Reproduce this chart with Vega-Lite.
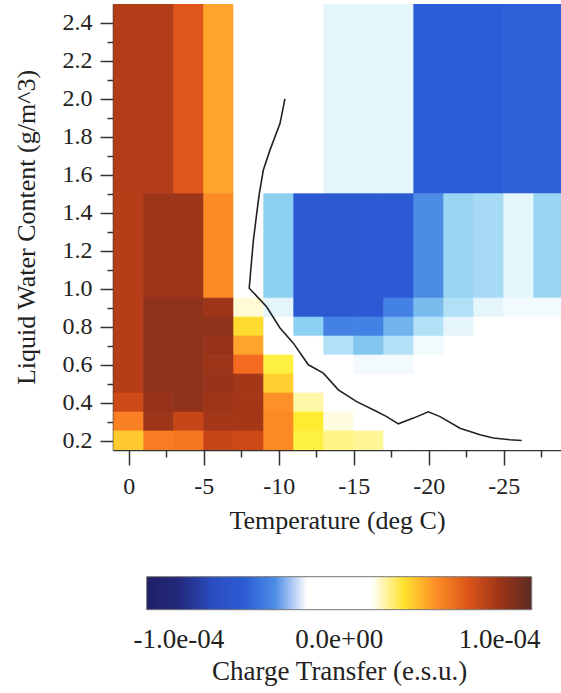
{
  "$schema": "https://vega.github.io/schema/vega-lite/v6.json",
  "width": 448,
  "height": 446,
  "autosize": {"type": "none"},
  "padding": {"left": 113, "top": 4, "right": 0, "bottom": 243},
  "background": "white",
  "config": {
    "font": "Liberation Serif",
    "view": {"stroke": "#555", "strokeWidth": 1},
    "axis": {"labelFont": "Liberation Serif", "titleFont": "Liberation Serif", "labelColor": "#222", "titleColor": "#222", "titleFontWeight": "normal", "domainColor": "#333", "tickColor": "#333", "grid": false, "labelFlush": false, "zindex": 1}
  },
  "datasets": {
    "cells": [
      {"t1":1,"t2":-1,"l1":1.5,"l2":2.5,"q":9.4e-5},{"t1":-1,"t2":-3,"l1":1.5,"l2":2.5,"q":9.4e-5},{"t1":-3,"t2":-5,"l1":1.5,"l2":2.5,"q":8.0e-5},{"t1":-5,"t2":-7,"l1":1.5,"l2":2.5,"q":5.5e-5},{"t1":-7,"t2":-9,"l1":1.5,"l2":2.5,"q":0},{"t1":-9,"t2":-11,"l1":1.5,"l2":2.5,"q":0},{"t1":-11,"t2":-13,"l1":1.5,"l2":2.5,"q":0},{"t1":-13,"t2":-15,"l1":1.5,"l2":2.5,"q":-2.6e-5},{"t1":-15,"t2":-17,"l1":1.5,"l2":2.5,"q":-2.6e-5},{"t1":-17,"t2":-19,"l1":1.5,"l2":2.5,"q":-2.6e-5},{"t1":-19,"t2":-21,"l1":1.5,"l2":2.5,"q":-5.8e-5},{"t1":-21,"t2":-23,"l1":1.5,"l2":2.5,"q":-5.8e-5},{"t1":-23,"t2":-25,"l1":1.5,"l2":2.5,"q":-5.8e-5},{"t1":-25,"t2":-27,"l1":1.5,"l2":2.5,"q":-5.7e-5},{"t1":-27,"t2":-29,"l1":1.5,"l2":2.5,"q":-5.7e-5},
      {"t1":1,"t2":-1,"l1":0.95,"l2":1.5,"q":9.3e-5},{"t1":-1,"t2":-3,"l1":0.95,"l2":1.5,"q":1.0e-4},{"t1":-3,"t2":-5,"l1":0.95,"l2":1.5,"q":1.0e-4},{"t1":-5,"t2":-7,"l1":0.95,"l2":1.5,"q":6.2e-5},{"t1":-7,"t2":-9,"l1":0.95,"l2":1.5,"q":0},{"t1":-9,"t2":-11,"l1":0.95,"l2":1.5,"q":-3.3e-5},{"t1":-11,"t2":-13,"l1":0.95,"l2":1.5,"q":-6.2e-5},{"t1":-13,"t2":-15,"l1":0.95,"l2":1.5,"q":-6.2e-5},{"t1":-15,"t2":-17,"l1":0.95,"l2":1.5,"q":-6.0e-5},{"t1":-17,"t2":-19,"l1":0.95,"l2":1.5,"q":-6.0e-5},{"t1":-19,"t2":-21,"l1":0.95,"l2":1.5,"q":-4.0e-5},{"t1":-21,"t2":-23,"l1":0.95,"l2":1.5,"q":-3.2e-5},{"t1":-23,"t2":-25,"l1":0.95,"l2":1.5,"q":-3.1e-5},{"t1":-25,"t2":-27,"l1":0.95,"l2":1.5,"q":-2.6e-5},{"t1":-27,"t2":-29,"l1":0.95,"l2":1.5,"q":-3.2e-5},
      {"t1":1,"t2":-1,"l1":0.85,"l2":0.95,"q":9.3e-5},{"t1":-1,"t2":-3,"l1":0.85,"l2":0.95,"q":1.04e-4},{"t1":-3,"t2":-5,"l1":0.85,"l2":0.95,"q":1.04e-4},{"t1":-5,"t2":-7,"l1":0.85,"l2":0.95,"q":1.0e-4},{"t1":-7,"t2":-9,"l1":0.85,"l2":0.95,"q":2.7e-5},{"t1":-9,"t2":-11,"l1":0.85,"l2":0.95,"q":-2.6e-5},{"t1":-11,"t2":-13,"l1":0.85,"l2":0.95,"q":-6.2e-5},{"t1":-13,"t2":-15,"l1":0.85,"l2":0.95,"q":-6.2e-5},{"t1":-15,"t2":-17,"l1":0.85,"l2":0.95,"q":-6.0e-5},{"t1":-17,"t2":-19,"l1":0.85,"l2":0.95,"q":-4.1e-5},{"t1":-19,"t2":-21,"l1":0.85,"l2":0.95,"q":-3.5e-5},{"t1":-21,"t2":-23,"l1":0.85,"l2":0.95,"q":-3.0e-5},{"t1":-23,"t2":-25,"l1":0.85,"l2":0.95,"q":-2.6e-5},{"t1":-25,"t2":-27,"l1":0.85,"l2":0.95,"q":-2.5e-5},{"t1":-27,"t2":-29,"l1":0.85,"l2":0.95,"q":-2.5e-5},
      {"t1":1,"t2":-1,"l1":0.75,"l2":0.85,"q":9.3e-5},{"t1":-1,"t2":-3,"l1":0.75,"l2":0.85,"q":1.04e-4},{"t1":-3,"t2":-5,"l1":0.75,"l2":0.85,"q":1.04e-4},{"t1":-5,"t2":-7,"l1":0.75,"l2":0.85,"q":1.04e-4},{"t1":-7,"t2":-9,"l1":0.75,"l2":0.85,"q":4.2e-5},{"t1":-9,"t2":-11,"l1":0.75,"l2":0.85,"q":0},{"t1":-11,"t2":-13,"l1":0.75,"l2":0.85,"q":-3.3e-5},{"t1":-13,"t2":-15,"l1":0.75,"l2":0.85,"q":-4.1e-5},{"t1":-15,"t2":-17,"l1":0.75,"l2":0.85,"q":-4.1e-5},{"t1":-17,"t2":-19,"l1":0.75,"l2":0.85,"q":-3.6e-5},{"t1":-19,"t2":-21,"l1":0.75,"l2":0.85,"q":-3.0e-5},{"t1":-21,"t2":-23,"l1":0.75,"l2":0.85,"q":-2.6e-5},{"t1":-23,"t2":-25,"l1":0.75,"l2":0.85,"q":-2.4e-5},{"t1":-25,"t2":-27,"l1":0.75,"l2":0.85,"q":0},{"t1":-27,"t2":-29,"l1":0.75,"l2":0.85,"q":0},
      {"t1":1,"t2":-1,"l1":0.65,"l2":0.75,"q":9.3e-5},{"t1":-1,"t2":-3,"l1":0.65,"l2":0.75,"q":1.04e-4},{"t1":-3,"t2":-5,"l1":0.65,"l2":0.75,"q":1.04e-4},{"t1":-5,"t2":-7,"l1":0.65,"l2":0.75,"q":1.02e-4},{"t1":-7,"t2":-9,"l1":0.65,"l2":0.75,"q":5.5e-5},{"t1":-9,"t2":-11,"l1":0.65,"l2":0.75,"q":0},{"t1":-11,"t2":-13,"l1":0.65,"l2":0.75,"q":0},{"t1":-13,"t2":-15,"l1":0.65,"l2":0.75,"q":-3.0e-5},{"t1":-15,"t2":-17,"l1":0.65,"l2":0.75,"q":-3.4e-5},{"t1":-17,"t2":-19,"l1":0.65,"l2":0.75,"q":-3.0e-5},{"t1":-19,"t2":-21,"l1":0.65,"l2":0.75,"q":-2.5e-5},{"t1":-21,"t2":-23,"l1":0.65,"l2":0.75,"q":0},{"t1":-23,"t2":-25,"l1":0.65,"l2":0.75,"q":0},{"t1":-25,"t2":-27,"l1":0.65,"l2":0.75,"q":0},{"t1":-27,"t2":-29,"l1":0.65,"l2":0.75,"q":0},
      {"t1":1,"t2":-1,"l1":0.55,"l2":0.65,"q":9.3e-5},{"t1":-1,"t2":-3,"l1":0.55,"l2":0.65,"q":1.04e-4},{"t1":-3,"t2":-5,"l1":0.55,"l2":0.65,"q":1.04e-4},{"t1":-5,"t2":-7,"l1":0.55,"l2":0.65,"q":1.0e-4},{"t1":-7,"t2":-9,"l1":0.55,"l2":0.65,"q":7.2e-5},{"t1":-9,"t2":-11,"l1":0.55,"l2":0.65,"q":3.6e-5},{"t1":-11,"t2":-13,"l1":0.55,"l2":0.65,"q":0},{"t1":-13,"t2":-15,"l1":0.55,"l2":0.65,"q":0},{"t1":-15,"t2":-17,"l1":0.55,"l2":0.65,"q":-2.5e-5},{"t1":-17,"t2":-19,"l1":0.55,"l2":0.65,"q":-2.5e-5},{"t1":-19,"t2":-21,"l1":0.55,"l2":0.65,"q":0},{"t1":-21,"t2":-23,"l1":0.55,"l2":0.65,"q":0},{"t1":-23,"t2":-25,"l1":0.55,"l2":0.65,"q":0},{"t1":-25,"t2":-27,"l1":0.55,"l2":0.65,"q":0},{"t1":-27,"t2":-29,"l1":0.55,"l2":0.65,"q":0},
      {"t1":1,"t2":-1,"l1":0.45,"l2":0.55,"q":9.3e-5},{"t1":-1,"t2":-3,"l1":0.45,"l2":0.55,"q":1.04e-4},{"t1":-3,"t2":-5,"l1":0.45,"l2":0.55,"q":1.04e-4},{"t1":-5,"t2":-7,"l1":0.45,"l2":0.55,"q":1.02e-4},{"t1":-7,"t2":-9,"l1":0.45,"l2":0.55,"q":9.8e-5},{"t1":-9,"t2":-11,"l1":0.45,"l2":0.55,"q":4.5e-5},{"t1":-11,"t2":-13,"l1":0.45,"l2":0.55,"q":0},{"t1":-13,"t2":-15,"l1":0.45,"l2":0.55,"q":0},{"t1":-15,"t2":-17,"l1":0.45,"l2":0.55,"q":0},{"t1":-17,"t2":-19,"l1":0.45,"l2":0.55,"q":0},{"t1":-19,"t2":-21,"l1":0.45,"l2":0.55,"q":0},{"t1":-21,"t2":-23,"l1":0.45,"l2":0.55,"q":0},{"t1":-23,"t2":-25,"l1":0.45,"l2":0.55,"q":0},{"t1":-25,"t2":-27,"l1":0.45,"l2":0.55,"q":0},{"t1":-27,"t2":-29,"l1":0.45,"l2":0.55,"q":0},
      {"t1":1,"t2":-1,"l1":0.35,"l2":0.45,"q":8.6e-5},{"t1":-1,"t2":-3,"l1":0.35,"l2":0.45,"q":1.02e-4},{"t1":-3,"t2":-5,"l1":0.35,"l2":0.45,"q":1.04e-4},{"t1":-5,"t2":-7,"l1":0.35,"l2":0.45,"q":1.0e-4},{"t1":-7,"t2":-9,"l1":0.35,"l2":0.45,"q":9.8e-5},{"t1":-9,"t2":-11,"l1":0.35,"l2":0.45,"q":6.0e-5},{"t1":-11,"t2":-13,"l1":0.35,"l2":0.45,"q":3.0e-5},{"t1":-13,"t2":-15,"l1":0.35,"l2":0.45,"q":0},{"t1":-15,"t2":-17,"l1":0.35,"l2":0.45,"q":0},{"t1":-17,"t2":-19,"l1":0.35,"l2":0.45,"q":0},{"t1":-19,"t2":-21,"l1":0.35,"l2":0.45,"q":0},{"t1":-21,"t2":-23,"l1":0.35,"l2":0.45,"q":0},{"t1":-23,"t2":-25,"l1":0.35,"l2":0.45,"q":0},{"t1":-25,"t2":-27,"l1":0.35,"l2":0.45,"q":0},{"t1":-27,"t2":-29,"l1":0.35,"l2":0.45,"q":0},
      {"t1":1,"t2":-1,"l1":0.25,"l2":0.35,"q":6.5e-5},{"t1":-1,"t2":-3,"l1":0.25,"l2":0.35,"q":1.0e-4},{"t1":-3,"t2":-5,"l1":0.25,"l2":0.35,"q":8.8e-5},{"t1":-5,"t2":-7,"l1":0.25,"l2":0.35,"q":9.8e-5},{"t1":-7,"t2":-9,"l1":0.25,"l2":0.35,"q":9.8e-5},{"t1":-9,"t2":-11,"l1":0.25,"l2":0.35,"q":6.2e-5},{"t1":-11,"t2":-13,"l1":0.25,"l2":0.35,"q":3.8e-5},{"t1":-13,"t2":-15,"l1":0.25,"l2":0.35,"q":2.6e-5},{"t1":-15,"t2":-17,"l1":0.25,"l2":0.35,"q":0},{"t1":-17,"t2":-19,"l1":0.25,"l2":0.35,"q":0},{"t1":-19,"t2":-21,"l1":0.25,"l2":0.35,"q":0},{"t1":-21,"t2":-23,"l1":0.25,"l2":0.35,"q":0},{"t1":-23,"t2":-25,"l1":0.25,"l2":0.35,"q":0},{"t1":-25,"t2":-27,"l1":0.25,"l2":0.35,"q":0},{"t1":-27,"t2":-29,"l1":0.25,"l2":0.35,"q":0},
      {"t1":1,"t2":-1,"l1":0.15,"l2":0.25,"q":4.6e-5},{"t1":-1,"t2":-3,"l1":0.15,"l2":0.25,"q":6.6e-5},{"t1":-3,"t2":-5,"l1":0.15,"l2":0.25,"q":6.8e-5},{"t1":-5,"t2":-7,"l1":0.15,"l2":0.25,"q":8.8e-5},{"t1":-7,"t2":-9,"l1":0.15,"l2":0.25,"q":8.6e-5},{"t1":-9,"t2":-11,"l1":0.15,"l2":0.25,"q":6.2e-5},{"t1":-11,"t2":-13,"l1":0.15,"l2":0.25,"q":3.6e-5},{"t1":-13,"t2":-15,"l1":0.15,"l2":0.25,"q":3.2e-5},{"t1":-15,"t2":-17,"l1":0.15,"l2":0.25,"q":3.1e-5},{"t1":-17,"t2":-19,"l1":0.15,"l2":0.25,"q":0},{"t1":-19,"t2":-21,"l1":0.15,"l2":0.25,"q":0},{"t1":-21,"t2":-23,"l1":0.15,"l2":0.25,"q":0},{"t1":-23,"t2":-25,"l1":0.15,"l2":0.25,"q":0},{"t1":-25,"t2":-27,"l1":0.15,"l2":0.25,"q":0},{"t1":-27,"t2":-29,"l1":0.15,"l2":0.25,"q":0}
    ],
    "curve": [
      {"i":0,"t":-10.41,"lwc":2.0},{"i":1,"t":-10.08,"lwc":1.87},{"i":2,"t":-9.41,"lwc":1.73},{"i":3,"t":-8.97,"lwc":1.625},{"i":4,"t":-8.7,"lwc":1.5},{"i":5,"t":-8.53,"lwc":1.397},{"i":6,"t":-8.31,"lwc":1.256},{"i":7,"t":-8.19,"lwc":1.151},{"i":8,"t":-8.03,"lwc":1.002},{"i":9,"t":-8.3,"lwc":0.98},{"i":10,"t":-9.19,"lwc":0.905},{"i":11,"t":-10.08,"lwc":0.793},{"i":12,"t":-10.97,"lwc":0.713},{"i":13,"t":-11.97,"lwc":0.599},{"i":14,"t":-12.97,"lwc":0.555},{"i":15,"t":-13.97,"lwc":0.467},{"i":16,"t":-15.19,"lwc":0.405},{"i":17,"t":-16.53,"lwc":0.353},{"i":18,"t":-17.19,"lwc":0.326},{"i":19,"t":-17.97,"lwc":0.288},{"i":20,"t":-18.97,"lwc":0.318},{"i":21,"t":-19.97,"lwc":0.351},{"i":22,"t":-20.75,"lwc":0.326},{"i":23,"t":-22.08,"lwc":0.265},{"i":24,"t":-23.41,"lwc":0.23},{"i":25,"t":-24.3,"lwc":0.213},{"i":26,"t":-25.41,"lwc":0.204},{"i":27,"t":-26.19,"lwc":0.2}
    ]
  },
  "layer": [
    {
      "data": {"name": "cells"},
      "mark": {"type": "rect", "clip": true, "strokeWidth": 0.8, "stroke": {"expr": "scale('color', datum.q)"}},
      "encoding": {
        "x": {"field": "t1", "type": "quantitative", "scale": {"domain": [1.05, -28.81], "nice": false, "zero": false},
          "axis": {"orient": "bottom", "values": [0, -5, -10, -15, -20, -25], "labelExpr": "'' + datum.value", "tickSize": 15, "tickWidth": 1.5, "domainWidth": 1.5, "labelFontSize": 24, "labelPadding": 9, "title": "Temperature (deg C)", "titleFontSize": 26, "titlePadding": 9}},
        "x2": {"field": "t2"},
        "y": {"field": "l1", "type": "quantitative", "scale": {"domain": [0.15, 2.5], "nice": false, "zero": false},
          "axis": {"orient": "left", "values": [0.2, 0.4, 0.6, 0.8, 1.0, 1.2, 1.4, 1.6, 1.8, 2.0, 2.2, 2.4], "format": ".1f", "tickSize": 13, "tickWidth": 1.5, "domainWidth": 1.5, "labelFontSize": 24, "labelPadding": 8, "title": "Liquid Water Content (g/m^3)", "titleFontSize": 26, "titlePadding": 23}},
        "y2": {"field": "l2"},
        "color": {
          "field": "q", "type": "quantitative",
          "scale": {
            "domain": [-0.00012, -0.0001, -0.000085, -0.00006, -0.000042, -0.000033, -0.000024, 0.000024, 0.00003, 0.000037, 0.000047, 0.000057, 0.000072, 0.000085, 0.000097, 0.00011, 0.00012],
            "range": ["#1e2064", "#23287c", "#2a48b8", "#2b5ad4", "#3a78e2", "#8cd0f2", "#ffffff", "#ffffff", "#fff7a8", "#fff030", "#ffc530", "#ff9a28", "#f46a1e", "#d04a18", "#a83818", "#7a2c1c", "#5c2a22"],
            "interpolate": "rgb"
          },
          "legend": {
            "type": "gradient",
            "orient": "none", "direction": "horizontal", "legendX": 33.7, "legendY": 572.7,
            "gradientLength": 385, "gradientThickness": 33, "gradientStrokeColor": "#777", "gradientStrokeWidth": 1,
            "values": [-0.0001, 0, 0.0001],
            "labelExpr": "datum.value < -0.000000001 ? '-1.0e-04' : (datum.value > 0.000000001 ? '1.0e-04' : '0.0e+00')",
            "labelFont": "Liberation Serif", "labelFontSize": 27, "labelColor": "#222", "labelOffset": 17, "labelAlign": "center", "labelOverlap": false,
            "title": "Charge Transfer (e.s.u.)", "titleOrient": "bottom", "titleAnchor": "middle", "titleFont": "Liberation Serif", "titleFontSize": 27, "titleFontWeight": "normal", "titleColor": "#222", "titlePadding": 6, "titleLimit": 500,
            "padding": 0, "offset": 0
          }
        }
      }
    },
    {
      "data": {"name": "curve"},
      "mark": {"type": "line", "color": "#222", "strokeWidth": 1.6, "clip": true},
      "encoding": {
        "x": {"field": "t", "type": "quantitative",
          "axis": {"orient": "bottom", "values": [-2.5, -7.5, -12.5, -17.5, -22.5, -27.5], "labels": false, "domain": false, "tickSize": 7, "tickWidth": 1.5, "title": null}},
        "y": {"field": "lwc", "type": "quantitative",
          "axis": {"orient": "left", "values": [0.3, 0.5, 0.7, 0.9, 1.1, 1.3, 1.5, 1.7, 1.9, 2.1, 2.3], "labels": false, "domain": false, "tickSize": 6, "tickWidth": 1.5, "title": null}},
        "order": {"field": "i", "type": "quantitative"}
      }
    }
  ],
  "resolve": {"axis": {"x": "independent", "y": "independent"}}
}
